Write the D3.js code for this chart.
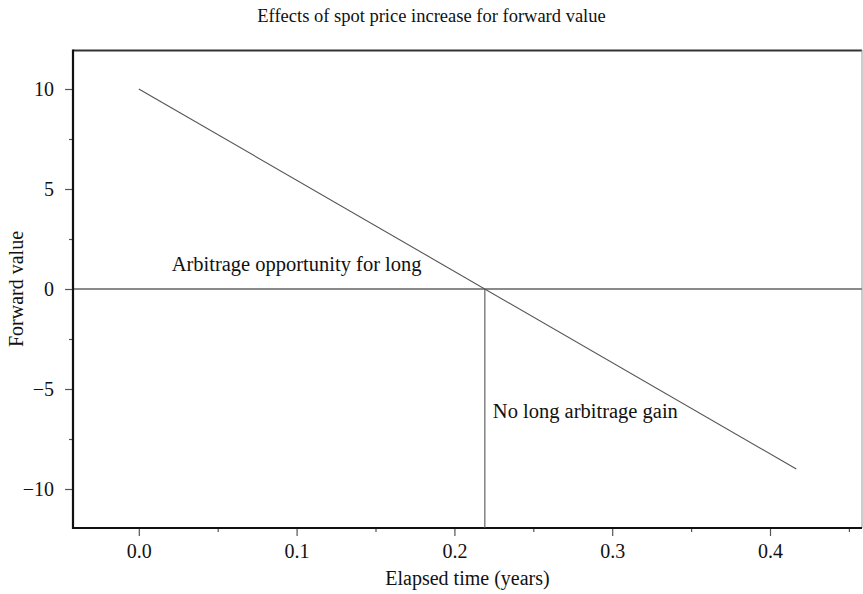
<!DOCTYPE html>
<html>
<head>
<meta charset="utf-8">
<script src="https://cdn.jsdelivr.net/npm/d3@7"></script>
<style>
  html, body { margin: 0; padding: 0; background: #fff; }
  text { font-family: "Liberation Serif", "Times New Roman", serif; fill: #111; }
</style>
</head>
<body>
<svg id="chart" width="863" height="594"></svg>
<script>
// ---- data ----
const elapsedTime = [0, 5 / 12];          // years
const forwardValue = [10, -9];             // forward value
const zeroCross = 10 / 19 * (5 / 12);     // time where forward value crosses 0
const xTicks = [0.0, 0.1, 0.2, 0.3, 0.4];
const xMinorTicks = [0.05, 0.15, 0.25, 0.35, 0.45];
const yTicks = [-10, -5, 0, 5, 10];
const yMinorTicks = [-7.5, -2.5, 2.5, 7.5];
const annotations = [
  { text: "Arbitrage opportunity for long", x: 0.1, y: 0.9, anchor: "middle" },
  { text: "No long arbitrage gain", x: 0.283, y: -6.45, anchor: "middle" }
];
const titleText = "Effects of spot price increase for forward value";
const xLabel = "Elapsed time (years)";
const yLabel = "Forward value";

// ---- layout ----
const svg = d3.select("#chart");
const pL = 73, pR = 862, pT = 50, pB = 528;
const x = d3.scaleLinear().domain([-0.0417, 0.4583]).range([pL, pR]);
const y = d3.scaleLinear().domain([-11.95, 11.95]).range([pB, pT]);
const fs = 20;

// frame: top + right
svg.append("line").attr("x1", pL).attr("x2", pR).attr("y1", pT + 0.5).attr("y2", pT + 0.5)
  .attr("stroke", "#333").attr("stroke-width", 2);
svg.append("line").attr("x1", pR).attr("x2", pR).attr("y1", pT).attr("y2", pB)
  .attr("stroke", "#999").attr("stroke-width", 1);

// zero line
svg.append("line").attr("x1", pL).attr("x2", pR).attr("y1", y(0)).attr("y2", y(0))
  .attr("stroke", "#8a8a8a").attr("stroke-width", 2);

// axes
const xAxis = d3.axisBottom(x).tickValues(xTicks).tickFormat(d3.format(".1f")).tickSize(8).tickSizeOuter(0).tickPadding(8);
const xMinor = d3.axisBottom(x).tickValues(xMinorTicks).tickFormat("").tickSize(4).tickSizeOuter(0);
const yAxis = d3.axisLeft(y).tickValues(yTicks).tickFormat(d => d < 0 ? "\u2212" + Math.abs(d) : d).tickSize(8).tickSizeOuter(0).tickPadding(11);
const yMinor = d3.axisLeft(y).tickValues(yMinorTicks).tickFormat("").tickSize(4).tickSizeOuter(0);

function styleAxis(g) {
  g.select(".domain").remove();
  g.selectAll(".tick line").attr("stroke", "#555").attr("stroke-width", 1.2);
  g.selectAll(".tick text").attr("font-size", fs).attr("fill", "#111")
    .attr("font-family", "Liberation Serif, Times New Roman, serif");
}
svg.append("g").attr("transform", `translate(0,${pB})`).call(xMinor).call(styleAxis);
svg.append("g").attr("transform", `translate(0,${pB})`).call(xAxis).call(styleAxis);
svg.append("g").attr("transform", `translate(${pL},0)`).call(yMinor).call(styleAxis);
svg.append("g").attr("transform", `translate(${pL},0)`).call(yAxis).call(styleAxis);

// axis lines
svg.append("line").attr("x1", pL).attr("x2", pL).attr("y1", pT - 0.5).attr("y2", pB + 1)
  .attr("stroke", "#111").attr("stroke-width", 2.2);
svg.append("line").attr("x1", pL - 1).attr("x2", pR).attr("y1", pB).attr("y2", pB)
  .attr("stroke", "#111").attr("stroke-width", 2.2);

// main line
const pts = elapsedTime.map((t, i) => [t, forwardValue[i]]);
svg.append("path").datum(pts)
  .attr("d", d3.line().x(d => x(d[0])).y(d => y(d[1])))
  .attr("fill", "none").attr("stroke", "#555").attr("stroke-width", 1.1);

// vertical line at crossing
svg.append("line").attr("x1", x(zeroCross)).attr("x2", x(zeroCross))
  .attr("y1", y(0)).attr("y2", pB)
  .attr("stroke", "#555").attr("stroke-width", 1.1);

// annotations
svg.selectAll("text.ann").data(annotations).enter().append("text")
  .attr("class", "ann")
  .attr("x", d => x(d.x)).attr("y", d => y(d.y))
  .attr("text-anchor", d => d.anchor)
  .attr("font-size", 20.5)
  .text(d => d.text);

// title
svg.append("text").attr("x", 431.5).attr("y", 22).attr("text-anchor", "middle")
  .attr("font-size", 18.5).text(titleText);

// x label
svg.append("text").attr("x", (pL + pR) / 2).attr("y", 585).attr("text-anchor", "middle")
  .attr("font-size", fs).text(xLabel);

// y label
svg.append("text").attr("transform", `translate(23,${(pT + pB) / 2}) rotate(-90)`)
  .attr("text-anchor", "middle").attr("font-size", fs).text(yLabel);
</script>
</body>
</html>
